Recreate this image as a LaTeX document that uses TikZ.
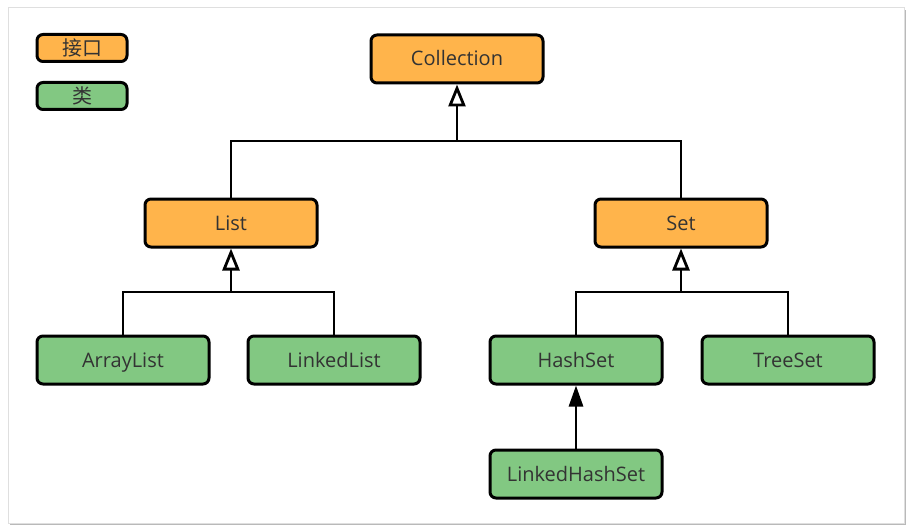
\documentclass[tikz,border=0pt]{standalone}
\usepackage{fontspec}
\setmainfont{Open Sans}
\newfontfamily\cjk{Noto Sans CJK SC}
\usetikzlibrary{positioning,arrows.meta,calc}
\definecolor{ifaceorange}{HTML}{FFB44B}
\definecolor{classgreen}{HTML}{82C882}
\definecolor{textgray}{HTML}{333333}

\begin{document}
\begin{tikzpicture}[
    x=1pt, y=-1pt,
    Box/.style={
        rectangle,
        draw,
        rounded corners=6pt,
        line width=3pt,
        minimum width=172pt,
        minimum height=48pt,
        inner sep=0pt,
        text height=17pt,
        text depth=3pt,
        text=textgray,
        font=\fontsize{20}{23}\selectfont
    },
    IBox/.style={Box, fill=ifaceorange},
    CBox/.style={Box, fill=classgreen},
    L/.style={minimum width=90pt, minimum height=27pt, text height=17pt, text depth=2pt},
    Link/.style={line width=2.8pt},
    Inh/.style={Link, -{Triangle[open, length=22pt, width=17pt]}},
    Use/.style={Link, -{Triangle[length=21pt, width=14pt]}}
    ]
    \useasboundingbox (0,0) rectangle (912,532);
    % frame with shadow
    \fill[gray!55] (10,10) rectangle (906,525);
    \draw[fill=white, draw=gray!25, line width=1pt] (8,8) rectangle (904,523);

    % legend
    \node[IBox,L] (legiface) at (82,48) {\cjk 接口};
    \node[CBox,L] (legclass) [below=18pt of legiface] {\cjk 类};

    \node[IBox] (coll) at (457,59) {Collection};
    \node[IBox] (list) at (231,223) {List};
    \node[IBox] (set) at (681,223) {Set};
    \node[CBox] (arrlist) at (123,360) {ArrayList};
    \node[CBox] (lnklist) [right=36pt of arrlist] {LinkedList};
    \node[CBox] (hashset) at (576,360) {HashSet};
    \node[CBox] (treeset) [right=37pt of hashset] {TreeSet};
    \node[CBox] (lnkhashset) [below=63pt of hashset] {LinkedHashSet};

    \coordinate (collbus) at (457,141);
    \coordinate (listbus) at (231,292);
    \coordinate (setbus) at (681,292);

    \draw[Link] (list.north) |- (set.north |- collbus) -- (set.north);
    \draw[Inh] (collbus) -- (coll.south);
    \draw[Link] (arrlist.north) |- (lnklist.north |- listbus) -- (lnklist.north);
    \draw[Inh] (listbus) -- (list.south);
    \draw[Link] (hashset.north) |- (treeset.north |- setbus) -- (treeset.north);
    \draw[Inh] (setbus) -- (set.south);
    \draw[Use] (lnkhashset.north) -- (hashset.south);
\end{tikzpicture}
\end{document}
